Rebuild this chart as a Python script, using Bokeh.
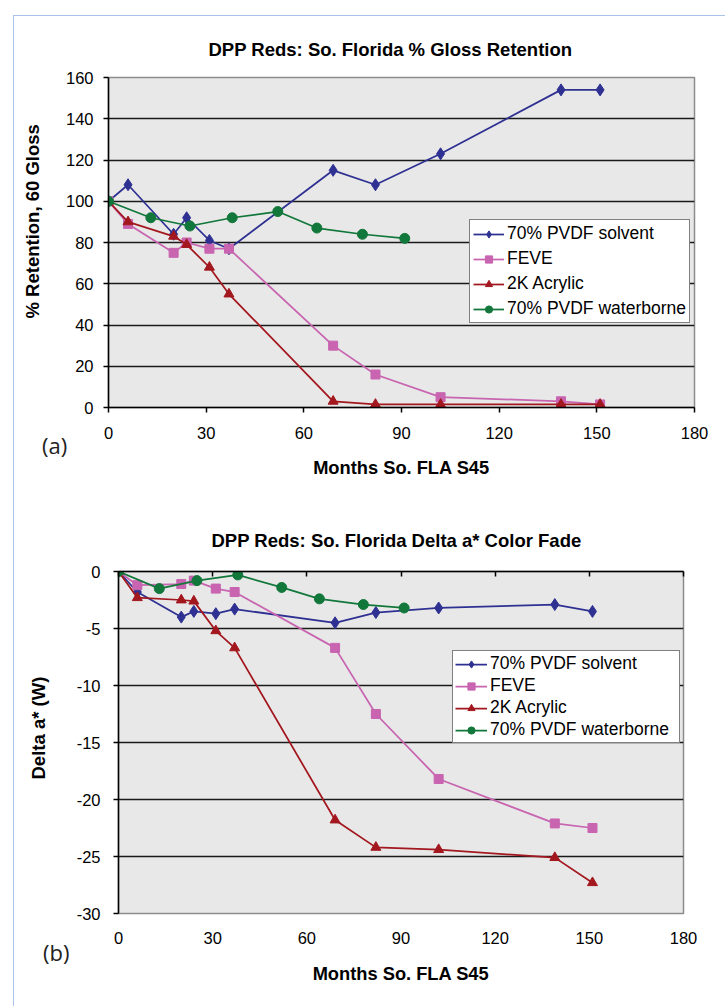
from bokeh.plotting import figure
from bokeh.models import (Legend, LegendItem, FixedTicker, LinearAxis, Range1d, Title, Div)
from bokeh.embed import file_html
from bokeh.resources import INLINE

# ---------------- data ----------------
months = [0, 6, 20, 24, 31, 37, 69, 82, 102, 139, 151]
months_wb = [0, 13, 25, 38, 52, 64, 78, 91]

gloss_pvdf_solvent = [100, 108, 84, 92, 81, 77, 115, 108, 123, 154, 154]
gloss_feve = [100, 89, 75, 80, 77, 77, 30, 16, 5, 3, 1.5]
gloss_2k_acrylic = [100, 90, 83, 79, 68, 55, 3, 1.5, 1.5, 1.5, 1.5]
gloss_pvdf_waterborne = [100, 92, 88, 92, 95, 87, 84, 82]

da_pvdf_solvent = [0, -1.8, -4.0, -3.5, -3.7, -3.3, -4.5, -3.6, -3.2, -2.9, -3.5]
da_feve = [0, -1.2, -1.1, -0.8, -1.5, -1.8, -6.7, -12.5, -18.2, -22.1, -22.5]
da_2k_acrylic = [0, -2.3, -2.5, -2.6, -5.2, -6.7, -21.8, -24.2, -24.4, -25.1, -27.3]
da_pvdf_waterborne = [0, -1.5, -0.8, -0.3, -1.4, -2.4, -2.9, -3.2]

series_names = ["70% PVDF solvent", "FEVE", "2K Acrylic", "70% PVDF waterborne"]
x_ticks = [0, 30, 60, 90, 120, 150, 180]
gloss_ticks = [0, 20, 40, 60, 80, 100, 120, 140, 160]
da_ticks = [0, -5, -10, -15, -20, -25, -30]

title_a = "DPP Reds: So. Florida % Gloss Retention"
title_b = "DPP Reds: So. Florida Delta a* Color Fade"
ylabel_a = "% Retention, 60 Gloss"
ylabel_b = "Delta a* (W)"
xlabel = "Months So. FLA S45"
tag_a = "(a)"
tag_b = "(b)"

# ---------------- styles ----------------
COLORS = ["#2E3192", "#C864B0", "#A3171F", "#12773A"]
MARKERS = ["diamond", "square", "triangle", "circle"]
MSIZES = [12, 9, 10, 10]
FONT = "Liberation Sans"
TICK_SIZE = "16.5px"
FRAME_BLUE = "#A9C4EB"


def style_axis(ax):
    ax.axis_line_color = "black"
    ax.axis_line_width = 1.5
    ax.major_tick_line_color = "black"
    ax.major_tick_line_width = 1.5
    ax.major_tick_out = 5
    ax.major_tick_in = 0
    ax.minor_tick_line_color = None
    ax.major_label_text_font = FONT
    ax.major_label_text_font_size = TICK_SIZE
    ax.major_label_text_color = "black"
    ax.axis_label_text_font = FONT
    ax.axis_label_text_font_size = "18.3px"
    ax.axis_label_text_font_style = "bold"
    ax.axis_label_text_color = "black"


def make_panel(width, height, yr, yticks, grid_ticks, borders, series, lcfg,
               title, title_cfg, ylab, ylab_cfg, ystandoff, top_axis, styles):
    p = figure(width=width, height=height, x_range=Range1d(0, 180), y_range=yr,
               output_backend="svg", toolbar_location=None,
               min_border_left=borders[0], min_border_right=borders[1],
               min_border_top=borders[2], min_border_bottom=borders[3],
               background_fill_color="#E8E8E8", border_fill_color=None,
               outline_line_color="#8C8C8C", outline_line_width=1.5,
               styles=styles)
    p.xgrid.visible = False
    p.ygrid.ticker = FixedTicker(ticks=grid_ticks)
    p.ygrid.grid_line_color = "#1A1A1A"
    p.ygrid.grid_line_width = 1.5

    p.xaxis.ticker = FixedTicker(ticks=x_ticks)
    p.yaxis.ticker = FixedTicker(ticks=yticks)
    p.yaxis.major_label_overrides = {t: str(t) for t in yticks}
    style_axis(p.xaxis[0])
    style_axis(p.yaxis[0])
    p.yaxis.major_label_standoff = ystandoff
    p.xaxis.axis_label = xlabel

    if top_axis:
        xa = p.xaxis[0]
        xa.axis_line_color = None
        xa.major_tick_line_color = None
        xa.major_tick_out = 0
        xa.major_label_standoff = 18
        xa.axis_label_standoff = 16
        top = LinearAxis(ticker=FixedTicker(ticks=x_ticks))
        style_axis(top)
        top.major_tick_in = 5
        top.major_tick_out = 0
        top.major_label_standoff = 0
        top.major_label_text_font_size = "0px"
        top.major_label_text_color = None
        p.add_layout(top, "above")
    else:
        p.xaxis.major_label_standoff = 14
        p.xaxis.axis_label_standoff = 15

    items = []
    for (xs, ys), name, c, m, s in zip(series, series_names, COLORS, MARKERS, MSIZES):
        lr = p.line(xs, ys, line_color=c, line_width=1.75)
        sr = p.scatter(xs, ys, marker=m, size=s, fill_color=c, line_color=c)
        items.append(LegendItem(label=name, renderers=[lr, sr]))

    lg = Legend(items=items, location=lcfg["loc"], orientation="vertical",
                border_line_color="black", border_line_width=1.5,
                background_fill_color="white", background_fill_alpha=1.0,
                padding=lcfg["padding"], spacing=lcfg["spacing"], margin=0,
                glyph_width=lcfg["gw"], glyph_height=18,
                label_height=18, label_width=lcfg.get("lw", 20),
                label_standoff=3, label_text_font=FONT,
                label_text_font_size="17.5px", label_text_color="black")
    p.add_layout(lg)

    p.title.text = title
    p.title.align = "left"
    p.title.offset = title_cfg[0]
    p.title.standoff = title_cfg[1]
    p.title.text_font = FONT
    p.title.text_font_size = "18.5px"
    p.title.text_font_style = "bold"
    p.title.text_color = "black"

    p.add_layout(Title(text=ylab, align="left", vertical_align="top",
                       offset=ylab_cfg[0], standoff=ylab_cfg[1],
                       text_font=FONT, text_font_size="18.5px",
                       text_font_style="bold", text_color="black"), "left")
    return p


p1 = make_panel(
    705, 473, Range1d(0, 160), gloss_ticks, gloss_ticks[1:-1], (104, 15, 66, 77),
    [(months, gloss_pvdf_solvent), (months, gloss_feve), (months, gloss_2k_acrylic),
     (months_wb, gloss_pvdf_waterborne)],
    dict(loc=(361, 84), padding=3, spacing=4, gw=31),
    title_a, (100, 35), ylabel_a, (89, 35), 10, top_axis=False,
    styles={"margin-left": "4px", "margin-top": "11px"})

p2 = make_panel(
    705, 512, Range1d(-30, 0), da_ticks, da_ticks[1:-1], (114, 26, 87, 83),
    [(months, da_pvdf_solvent), (months, da_feve), (months, da_2k_acrylic),
     (months_wb, da_pvdf_waterborne)],
    dict(loc=(334, 170), padding=2, spacing=1, gw=32, lw=187),
    title_b, (93, 41), ylabel_b, (134, 46), 13, top_axis=True,
    styles={"margin-left": "4px"})

frame_div = Div(text="", width=716, height=994,
                styles={"position": "absolute", "left": "8px", "top": "10px",
                        "border-left": f"1px solid {FRAME_BLUE}",
                        "border-top": f"1px solid {FRAME_BLUE}",
                        "pointer-events": "none"})

tag_style = {"position": "absolute", "font-family": "Open Sans", "font-size": "22px",
             "line-height": "30px", "color": "#222222"}
div_a = Div(text=tag_a, width=40, height=30, styles=dict(tag_style, left="37px", top="425px"))
div_b = Div(text=tag_b, width=40, height=30, styles=dict(tag_style, left="38px", top="932px"))

open("out.html", "w").write(file_html([p1, p2, frame_div, div_a, div_b], INLINE))
